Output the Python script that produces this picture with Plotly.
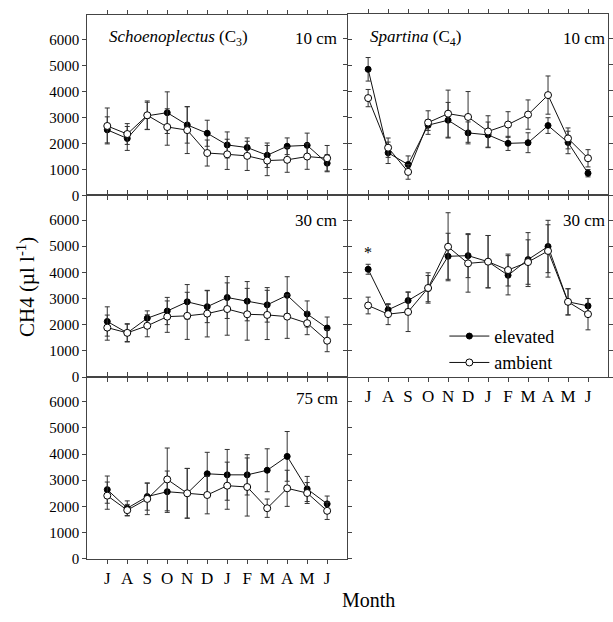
import plotly.graph_objects as go

months = ["J", "A", "S", "O", "N", "D", "J", "F", "M", "A", "M", "J"]
y_ticks = [0, 1000, 2000, 3000, 4000, 5000, 6000]

# Schoenoplectus (C3), 10 cm
sch10_elev = [2520, 2190, 3060, 3180, 2710, 2390, 1940, 1840, 1545, 1890, 1925, 1240]
sch10_elev_err = [500, 460, 520, 800, 700, 500, 500, 370, 470, 320, 470, 330]
sch10_amb = [2670, 2360, 3080, 2630, 2510, 1630, 1580, 1520, 1340, 1370, 1495, 1430]
sch10_amb_err = [690, 400, 550, 700, 900, 500, 580, 560, 580, 480, 490, 490]

# Spartina (C4), 10 cm
spa10_elev = [4820, 1630, 1180, 2685, 2875, 2390, 2315, 1990, 2015, 2670, 2025, 850]
spa10_elev_err = [450, 410, 330, 200, 680, 420, 490, 270, 380, 300, 430, 140]
spa10_amb = [3720, 1825, 900, 2785, 3125, 3000, 2445, 2710, 3090, 3835, 2180, 1420]
spa10_amb_err = [330, 370, 280, 450, 900, 970, 600, 490, 560, 730, 400, 330]

# Schoenoplectus (C3), 30 cm
sch30_elev = [2125, 1690, 2250, 2525, 2875, 2690, 3040, 2900, 2760, 3125, 2410, 1875]
sch30_elev_err = [560, 330, 280, 520, 660, 610, 800, 750, 660, 710, 500, 420]
sch30_amb = [1890, 1690, 1960, 2310, 2340, 2425, 2600, 2400, 2375, 2310, 2060, 1390]
sch30_amb_err = [480, 350, 420, 600, 900, 890, 1000, 990, 940, 830, 440, 420]

# Spartina (C4), 30 cm
spa30_elev = [4120, 2570, 2925, 3380, 4615, 4640, 4410, 3890, 4490, 4990, 2875, 2720]
spa30_elev_err = [190, 200, 330, 500, 880, 840, 1000, 750, 1030, 1000, 500, 280]
spa30_amb = [2735, 2405, 2490, 3405, 4980, 4345, 4410, 4090, 4395, 4820, 2875, 2405]
spa30_amb_err = [320, 400, 750, 580, 1300, 1100, 1000, 610, 850, 1000, 500, 600]

# Schoenoplectus (C3), 75 cm
sch75_elev = [2640, 1930, 2375, 2560, 2500, 3245, 3205, 3205, 3380, 3910, 2665, 2095]
sch75_elev_err = [520, 280, 520, 790, 950, 820, 970, 770, 820, 950, 480, 300]
sch75_amb = [2410, 1855, 2285, 3030, 2500, 2435, 2790, 2740, 1930, 2690, 2510, 1830]
sch75_amb_err = [520, 220, 600, 1200, 950, 720, 900, 1110, 350, 690, 400, 330]

x_idx = list(range(len(months)))
FONT = "Liberation Serif, Times New Roman, serif"
W, H = 613, 622

panels = [
    ("x", "y", (88, 350), (15, 198), sch10_elev, sch10_elev_err, sch10_amb, sch10_amb_err, False, True),
    ("x2", "y2", (351, 613), (14, 198), spa10_elev, spa10_elev_err, spa10_amb, spa10_amb_err, False, False),
    ("x3", "y3", (88, 350), (198, 382), sch30_elev, sch30_elev_err, sch30_amb, sch30_amb_err, False, True),
    ("x4", "y4", (351, 613), (198, 382), spa30_elev, spa30_elev_err, spa30_amb, spa30_amb_err, True, False),
    ("x5", "y5", (88, 350), (382, 566), sch75_elev, sch75_elev_err, sch75_amb, sch75_amb_err, True, True),
]

fig = go.Figure()
layout = {}
line_col = "#111111"
err_col = "#333333"
frame_col = "#444444"

for i, (xa, ya, xd, yd, el, ele, am, ame, showx, showy) in enumerate(panels):
    legend_here = (i == 3)
    fig.add_trace(go.Scatter(
        x=x_idx, y=el, xaxis=xa, yaxis=ya, mode="lines+markers",
        name="elevated", showlegend=legend_here, legendrank=1,
        line=dict(color=line_col, width=1),
        marker=dict(symbol="circle", size=6, color="black", line=dict(color="black", width=1)),
        error_y=dict(type="data", array=ele, visible=True, color=err_col, thickness=1, width=2.5),
    ))
    fig.add_trace(go.Scatter(
        x=x_idx, y=am, xaxis=xa, yaxis=ya, mode="lines+markers",
        name="ambient", showlegend=legend_here, legendrank=2,
        line=dict(color=line_col, width=1),
        marker=dict(symbol="circle", size=7, color="white", line=dict(color="black", width=1)),
        error_y=dict(type="data", array=ame, visible=True, color=err_col, thickness=1, width=2.5),
    ))
    xkey = "xaxis" + xa[1:]
    ykey = "yaxis" + ya[1:]
    layout[xkey] = dict(
        domain=[xd[0] / W, xd[1] / W], anchor=ya, range=[-1, 12],
        tickmode="array", tickvals=x_idx, ticktext=months, showticklabels=showx,
        ticks="outside", ticklen=4, tickcolor=frame_col, tickwidth=1,
        showline=True, linecolor=frame_col, linewidth=1, mirror="allticks",
        showgrid=False, zeroline=False,
        tickfont=dict(family=FONT, size=17, color="black"),
    )
    layout[ykey] = dict(
        domain=[1 - yd[1] / H, 1 - yd[0] / H], anchor=xa, range=[0, 6940],
        tickmode="array", tickvals=y_ticks, showticklabels=showy,
        ticks="outside", ticklen=4, tickcolor=frame_col, tickwidth=1,
        showline=True, linecolor=frame_col, linewidth=1, mirror="allticks",
        showgrid=False, zeroline=False,
        tickfont=dict(family=FONT, size=15, color="black"),
    )

annotations = []
def txt(x, y, s, size, xanchor="center", yanchor="middle", angle=0):
    annotations.append(dict(x=x, y=y, xref="paper", yref="paper", text=s, showarrow=False,
                            xanchor=xanchor, yanchor=yanchor, textangle=angle,
                            font=dict(family=FONT, size=size, color="black")))

txt(108 / W, 1 - 39 / H, "<i>Schoenoplectus</i> (C<sub>3</sub>)", 17, xanchor="left")
txt(371 / W, 1 - 39 / H, "<i>Spartina</i> (C<sub>4</sub>)", 17, xanchor="left")
txt(342 / W, 1 - 39 / H, "10 cm", 17, xanchor="right")
txt(612 / W, 1 - 39 / H, "10 cm", 17, xanchor="right")
txt(342 / W, 1 - 223 / H, "30 cm", 17, xanchor="right")
txt(612 / W, 1 - 223 / H, "30 cm", 17, xanchor="right")
txt(343 / W, 1 - 404 / H, "75 cm", 17, xanchor="right")
txt(26 / W, 1 - 291 / H, "CH4 (µl l<sup>-1</sup>)", 21, angle=-90)
txt(372 / W, 1 - 608 / H, "Month", 20)
# significance marker
annotations.append(dict(x=0, y=4750, xref="x4", yref="y4", text="*", showarrow=False,
                        font=dict(family=FONT, size=16, color="black")))

fig.update_layout(
    width=W, height=H, margin=dict(l=0, r=0, t=0, b=0),
    paper_bgcolor="white", plot_bgcolor="white",
    font=dict(family=FONT, color="black"),
    annotations=annotations,
    legend=dict(x=448 / W, y=1 - 322 / H, xanchor="left", yanchor="top",
                bgcolor="rgba(0,0,0,0)", font=dict(family=FONT, size=18, color="black"),
                tracegroupgap=0, traceorder="normal", itemwidth=40),
    **layout,
)

fig.write_html("out.html")
